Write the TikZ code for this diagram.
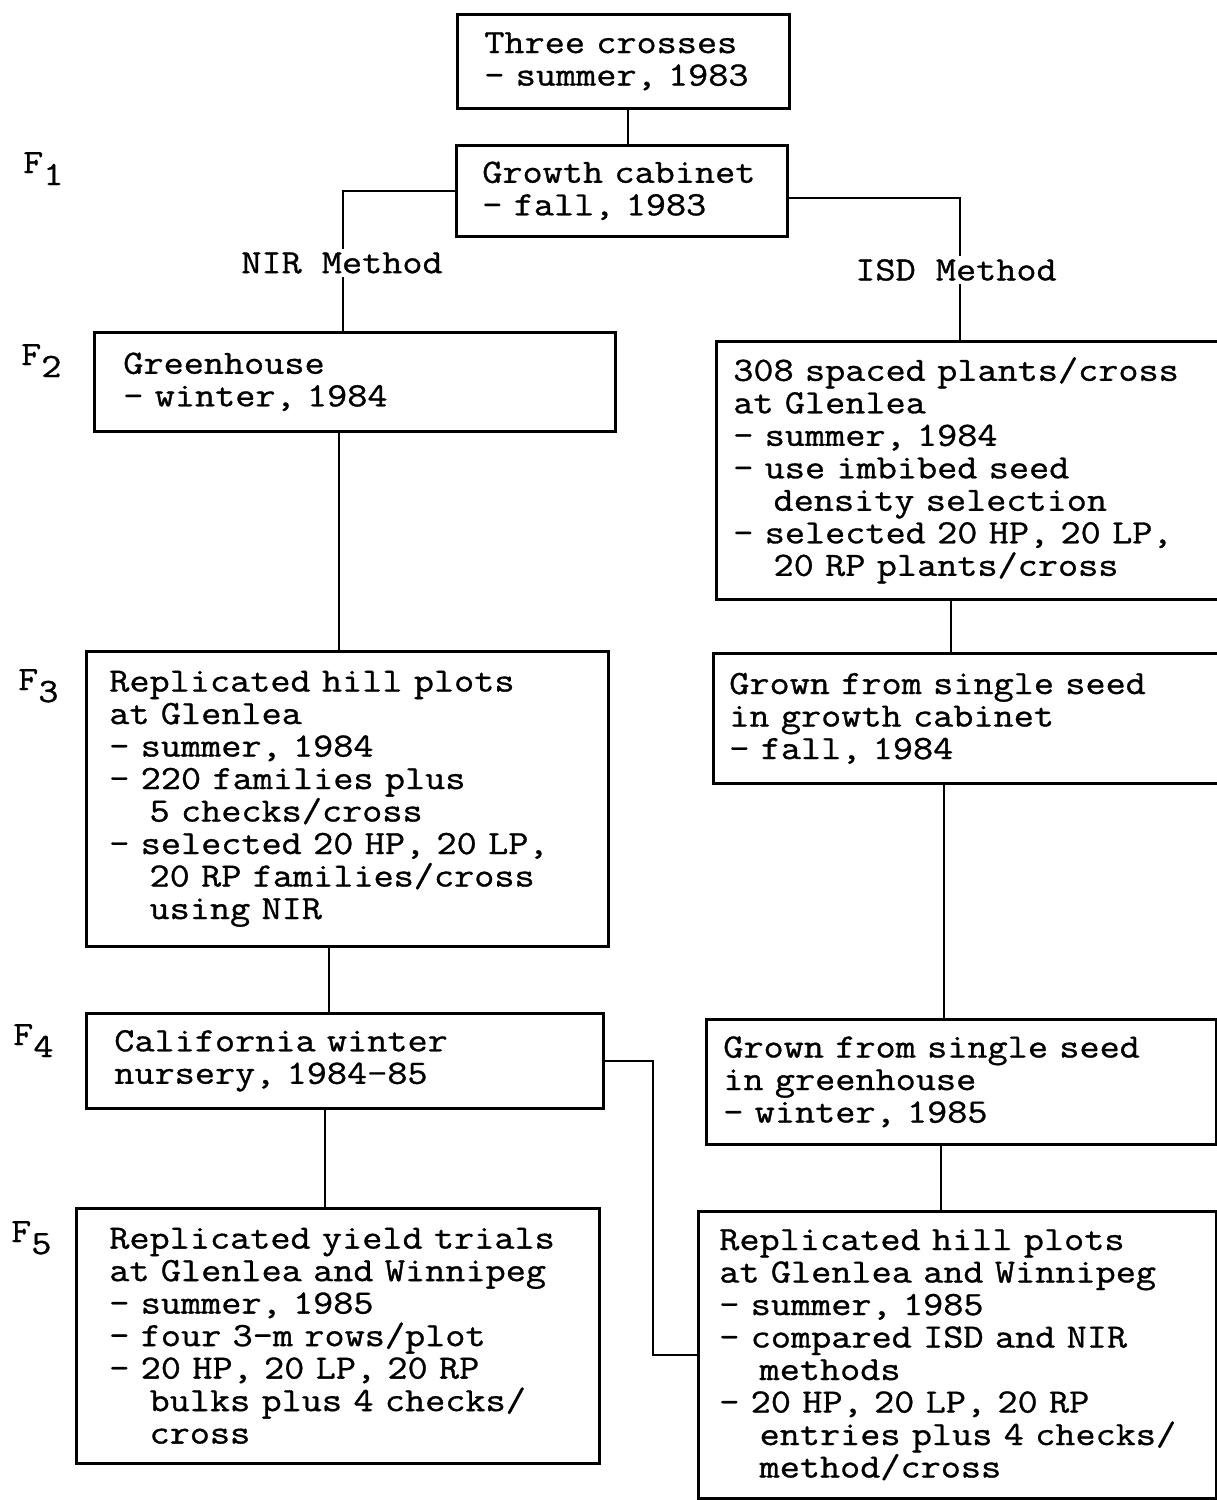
\documentclass[tikz,border=0pt]{standalone}
\usepackage{fontspec}
\newfontfamily\stagefam{Latin Modern Mono}[FakeBold=0.9, FakeStretch=1.15]
\newcommand{\stagefont}{\stagefam\fontsize{34}{32.5}\selectfont\lineskiplimit=-50pt}
\newcommand{\fgen}[1]{F\raisebox{-12pt}{#1}}
\newcommand{\ind}{\hspace*{2\fontcharwd\font`\0}}

\begin{document}
\begin{tikzpicture}[x=1pt, y=-1pt,
		% Box styles
		stage/.style={rectangle, draw=black, line width=2.6pt, anchor=north west,
			inner xsep=0pt, inner ysep=0pt, align=left, font=\stagefont},
		% Line styles
		link/.style={line width=2pt},
		% Text styles
		method/.style={fill=white, inner xsep=1pt, inner ysep=3pt, font=\stagefont},
		gen/.style={anchor=base west, inner sep=0pt, font=\stagefont}
		]
		\useasboundingbox (0,0) rectangle (1217,1500);
		
		% Parents and F1
		\node[stage, minimum width=332pt, minimum height=94pt, text width=278pt] (crosses) at (456,13) {Three crosses\\- summer, 1983};
		\node[stage, minimum width=331pt, minimum height=91pt, text width=279pt] (cabinet) at (455,144) {Growth cabinet\\- fall, 1983};
		
		% NIR method path
		\node[stage, minimum width=521pt, minimum height=99pt, text width=463pt] (greenhouse) at (93,331) {Greenhouse\\- winter, 1984};
		\node[stage, minimum width=522pt, minimum height=295pt, text width=476pt] (hillnir) at (85,650) {Replicated hill plots\\at Glenlea\\- summer, 1984\\- 220 families plus\\\ind 5 checks/cross\\- selected 20 HP, 20 LP,\\\ind 20 RP families/cross\\\ind using NIR};
		\node[stage, minimum width=517pt, minimum height=95pt, text width=461pt] (california) at (85,1012) {California winter\\nursery, 1984-85};
		\node[stage, minimum width=523pt, minimum height=255pt, text width=457pt] (yield) at (75,1207) {Replicated yield trials\\at Glenlea and Winnipeg\\- summer, 1985\\- four 3-m rows/plot\\- 20 HP, 20 LP, 20 RP\\\ind bulks plus 4 checks/\\\ind cross};
		
		% ISD method path
		\node[stage, minimum width=510pt, minimum height=258pt, text width=476pt] (spaced) at (715,340) {308 spaced plants/cross\\at Glenlea\\- summer, 1984\\- use imbibed seed\\\ind density selection\\- selected 20 HP, 20 LP,\\\ind 20 RP plants/cross};
		\node[stage, minimum width=513pt, minimum height=130pt, text width=481pt] (cabinetseed) at (712,652) {Grown from single seed\\in growth cabinet\\- fall, 1984};
		\node[stage, minimum width=510pt, minimum height=125pt, text width=476pt] (greenseed) at (705,1018) {Grown from single seed\\in greenhouse\\- winter, 1985};
		\node[stage, minimum width=518pt, minimum height=287pt, text width=476pt] (hillboth) at (697,1210) {Replicated hill plots\\at Glenlea and Winnipeg\\- summer, 1985\\- compared ISD and NIR\\\ind methods\\- 20 HP, 20 LP, 20 RP\\\ind entries plus 4 checks/\\\ind method/cross};
		
		% Generations
		\node[gen] (f1) at (23,173) {\fgen{1}};
		\node[gen] (f2) at (21,365) {\fgen{2}};
		\node[gen] (f3) at (18,690) {\fgen{3}};
		\node[gen] (f4) at (13,1045) {\fgen{4}};
		\node[gen] (f5) at (11,1242) {\fgen{5}};
		
		% Connectors
		\draw[link] ([xshift=5pt]crosses.south) -- ([xshift=5pt]crosses.south |- cabinet.north);
		\draw[link] (cabinet.west) -| ([xshift=-12pt]greenhouse.north);
		\draw[link] ([yshift=-7pt]cabinet.east) -| ([xshift=-11pt]spaced.north);
		\draw[link] ([xshift=-16pt]greenhouse.south) -- ([xshift=-16pt]greenhouse.south |- hillnir.north);
		\draw[link] ([xshift=-18pt]hillnir.south) -- ([xshift=-18pt]hillnir.south |- california.north);
		\draw[link] ([xshift=-20pt]california.south) -- ([xshift=-20pt]california.south |- yield.north);
		\draw[link] ([xshift=-20pt]spaced.south) -- ([xshift=-20pt]spaced.south |- cabinetseed.north);
		\draw[link] ([xshift=-26pt]cabinetseed.south) -- ([xshift=-26pt]cabinetseed.south |- greenseed.north);
		\draw[link] ([xshift=-20pt]greenseed.south) -- ([xshift=-20pt]greenseed.south |- hillboth.north);
		\coordinate (jog) at (653,0);
		\draw[link] (california.east) -- (california.east -| jog) |- (hillboth.west);
		
		% Method labels
		\node[method] (nir) at (342,263) {NIR Method};
		\node[method] (isd) at (956,270) {ISD Method};
		
	\end{tikzpicture}
\end{document}
